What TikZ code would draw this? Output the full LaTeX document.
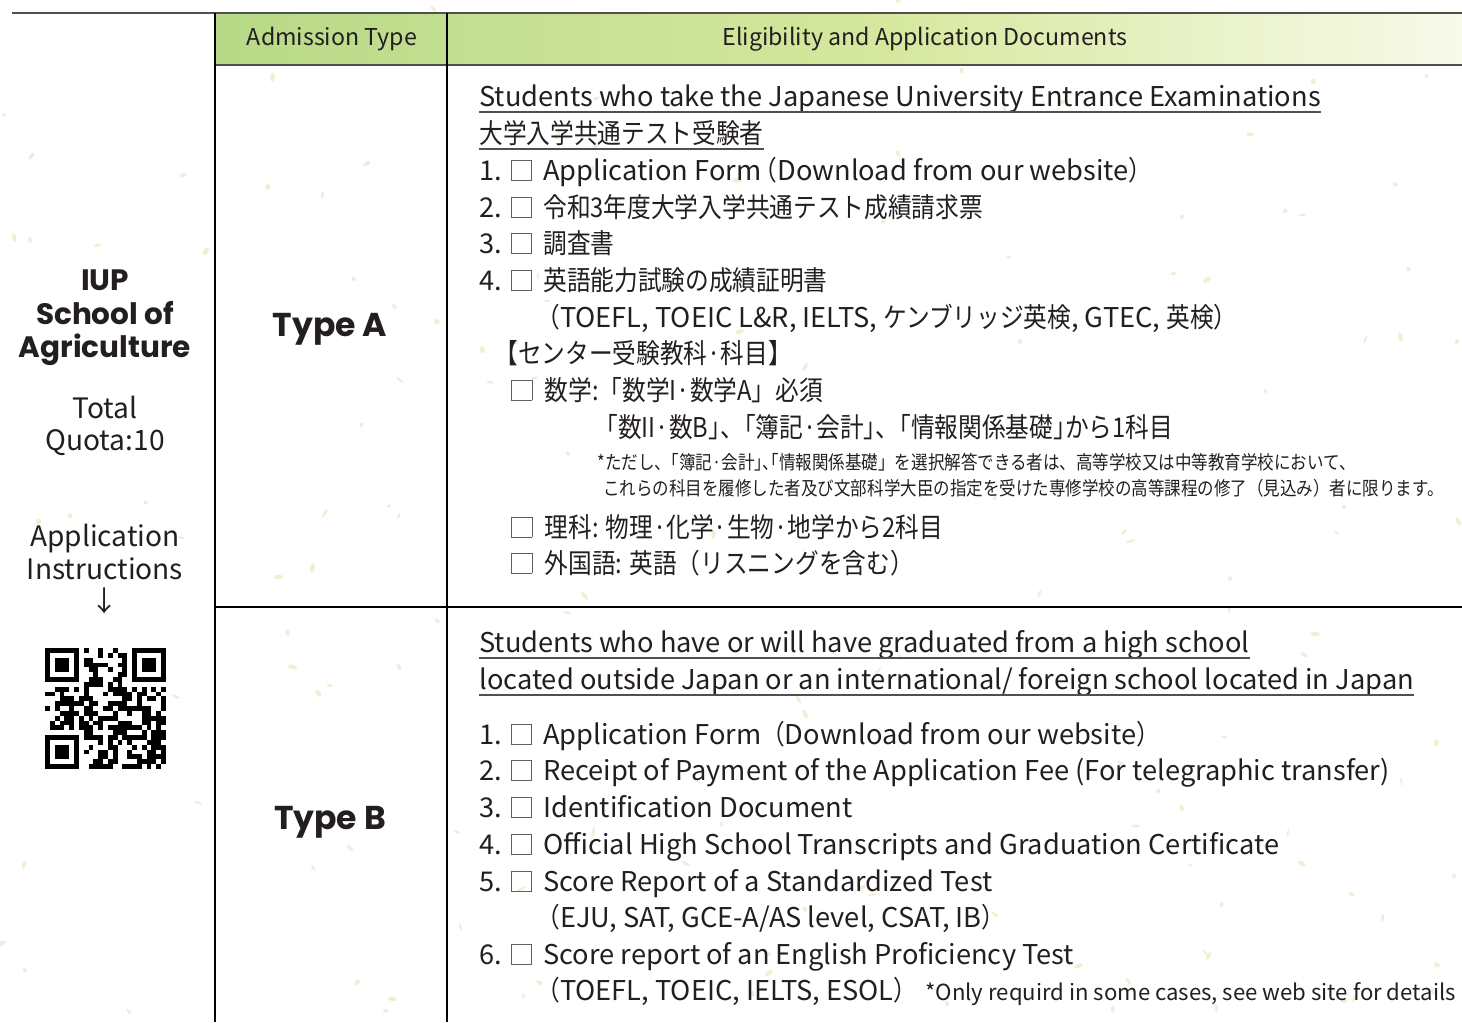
\documentclass[tikz,border=0pt]{standalone}
\usepackage{fontspec}
\setmainfont{Noto Sans CJK JP}
\newfontfamily\jpfont{Noto Sans CJK JP}[FakeStretch=0.87]
\newfontfamily\jphfont{Noto Sans CJK JP}[FakeStretch=0.87,RawFeature=+halt]
\newfontfamily\headfont{Poppins}
\usetikzlibrary{positioning,calc}

\definecolor{hdrA}{RGB}{184,217,136}
\definecolor{hdrB}{RGB}{214,232,158}
\definecolor{hdrC}{RGB}{248,250,234}
\definecolor{rulegray}{RGB}{80,80,80}
\definecolor{boxgray}{RGB}{95,95,95}
\definecolor{inkdark}{RGB}{35,30,32}
\definecolor{fleck}{RGB}{240,228,192}

\pgfdeclarehorizontalshading{hdrshade}{100bp}{color(0bp)=(hdrA); color(25bp)=(hdrA); color(52bp)=(hdrB); color(75bp)=(hdrC); color(100bp)=(hdrC)}

% check box of the lists
\newcommand{\tick}{\textcolor{boxgray}{\fboxsep=0pt\fboxrule=0.5pt\fbox{\rule{0pt}{11pt}\hspace{11pt}}}}
\newcommand{\chk}{\hspace{5pt}\tick\hspace{6.5pt}}
\newcommand{\jp}[1]{{\jpfont #1}}
\newcommand{\jph}[1]{{\jphfont #1}}

\tikzset{
  txt/.style={anchor=base west, inner sep=0pt, text=inkdark, font=\fontsize{15.5}{18}\selectfont},
  jtxt/.style={txt, font=\jpfont\fontsize{15.5}{18}\selectfont},
  small/.style={txt, font=\jpfont\fontsize{10.8}{12}\selectfont},
  note/.style={txt, font=\fontsize{12.6}{14}\selectfont},
  hdr/.style={inner sep=0pt, text=inkdark, font=\fontsize{13.2}{15}\selectfont},
  big/.style={inner sep=0pt, text=inkdark, align=center, font=\headfont\bfseries\fontsize{16.8}{19}\selectfont},
  side/.style={inner sep=0pt, text=inkdark, align=center, font=\fontsize{16}{18.6}\selectfont},
  uline/.style={draw=rulegray, line width=0.6pt},
  hrule/.style={draw=rulegray, line width=1.3pt},
  vrule/.style={draw=black, line width=0.6pt},
}

\begin{document}
\begin{tikzpicture}[x=0.02cm, y=-0.02cm]
  \useasboundingbox (0,0) rectangle (1462,1022);

  % paper flecks
  \pgfmathsetseed{731}
  \foreach \k in {1,...,160} {
    \pgfmathsetmacro\fx{rnd*1462}
    \pgfmathsetmacro\fy{rnd*1022}
    \fill[fleck, opacity=0.7, rotate around={rnd*180:(\fx,\fy)}] (\fx,\fy) ellipse (2+rnd*3 and 1+rnd*1.5);
  }

  % table frame
  \shade[shading=hdrshade] (215,13) rectangle (1462,65);
  \draw[hrule] (12,13) -- (1462,13);
  \draw[hrule] (215,65) -- (1462,65);
  \draw[vrule] (215,13) -- (215,1022);
  \draw[vrule] (447,13) -- (447,1022);
  \draw[vrule] (215,607) -- (1462,607);

  \node[hdr] (hType) at (332,39) {Admission Type};
  \node[hdr] (hDocs) at (925,39) {Eligibility and Application Documents};

  % left column
  \node[big] (school) at (105,318) {IUP\\School of\\Agriculture};
  \node[side] (quota) at (105,426) {Total\\Quota:10};
  \node[side] (instr) at (105,569) {Application\\Instructions\\↓};
  \coordinate (qr) at (45,648);
  \fill[black] (qr) rectangle ++(33.9,33.9);
  \fill[white] ($(qr)+(4.84,4.84)$) rectangle ++(24.2,24.2);
  \fill[black] ($(qr)+(9.68,9.68)$) rectangle ++(14.5,14.5);
  \fill[black] ($(qr)+(87.1,0)$) rectangle ++(33.9,33.9);
  \fill[white] ($(qr)+(91.9,4.84)$) rectangle ++(24.2,24.2);
  \fill[black] ($(qr)+(96.8,9.68)$) rectangle ++(14.5,14.5);
  \fill[black] ($(qr)+(0,87.1)$) rectangle ++(33.9,33.9);
  \fill[white] ($(qr)+(4.84,91.9)$) rectangle ++(24.2,24.2);
  \fill[black] ($(qr)+(9.68,96.8)$) rectangle ++(14.5,14.5);
  \pgfmathsetseed{2417}
  \foreach \i in {0,...,24}
    \foreach \j in {0,...,24} {
      \pgfmathtruncatemacro\qbit{(rnd<0.55) && !(\i<8 && \j<8) && !(\i>16 && \j<8) && !(\i<8 && \j>16)}
      \ifnum\qbit=1
        \fill[black] ($(qr)+(\i*4.84,\j*4.84)$) rectangle ++(4.84,4.84);
      \fi
    }

  % type labels
  \node[big, anchor=base, font=\headfont\bfseries\fontsize{18.8}{20}\selectfont] (typeA) at (330,336) {Type A};
  \node[big, anchor=base, font=\headfont\bfseries\fontsize{18.8}{20}\selectfont] (typeB) at (330,829) {Type B};

  % Type A documents
  \node[txt] (sA1) at (479,106) {Students who take the Japanese University Entrance Examinations};
  \node[jtxt] (sA2) at (479,143) {大学入学共通テスト受験者};
  \draw[uline] ([yshift=-0.12cm]sA1.base west) -- ([yshift=-0.12cm]sA1.base east);
  \draw[uline] ([yshift=-0.12cm]sA2.base west) -- ([yshift=-0.12cm]sA2.base east);
  \node[txt] (a1) at (479,180) {1.\chk Application Form\hspace{2.5pt}\jph{（}Download from our website\jph{）}};
  \node[txt] (a2) at (479,217) {2.\chk \jp{令和3年度大学入学共通テスト成績請求票}};
  \node[txt] (a3) at (479,253) {3.\chk \jp{調査書}};
  \node[txt] (a4) at (479,290) {4.\chk \jp{英語能力試験の成績証明書}};
  \node[txt] (a4x) at (536,327) {\jp{（}TOEFL, TOEIC L\&R, IELTS, \jp{ケンブリッジ英検}, GTEC, \jp{英検）}};
  \node[jtxt] (ctr) at (494,363) {【センター受験教科·科目】};
  \node[jtxt] (m1) at (511,400) {\tick\hspace{7pt}数学:「数学I·数学A」必須};
  \node[jtxt] (m2) at (606,437) {\jph{「}数II·数B\jph{」}、\jph{「}簿記·会計\jph{」}、\jph{「}情報関係基礎\jph{」}から1科目};
  \node[small] (n1) at (597,469) {*ただし、\jph{「}簿記·会計\jph{」、「}情報関係基礎」を選択解答できる者は、高等学校又は中等教育学校において、};
  \node[small] (n2) at (603,495) {これらの科目を履修した者及び文部科学大臣の指定を受けた専修学校の高等課程の修了（見込み）者に限ります。};
  \node[jtxt] (m3) at (511,537) {\tick\hspace{7pt}理科: 物理·化学·生物·地学から2科目};
  \node[jtxt] (m4) at (511,573) {\tick\hspace{7pt}外国語: 英語（リスニングを含む）};

  % Type B documents
  \node[txt] (sB1) at (479,652) {Students who have or will have graduated from a high school};
  \node[txt] (sB2) at (479,689) {located outside Japan or an international/ foreign school located in Japan};
  \draw[uline] ([yshift=-0.12cm]sB1.base west) -- ([yshift=-0.12cm]sB1.base east);
  \draw[uline] ([yshift=-0.12cm]sB2.base west) -- ([yshift=-0.12cm]sB2.base east);
  \node[txt] (b1) at (479,744) {1.\chk Application Form\jp{（}Download from our website\jph{）}};
  \node[txt] (b2) at (479,780) {2.\chk Receipt of Payment of the Application Fee (For telegraphic transfer)};
  \node[txt] (b3) at (479,817) {3.\chk Identification Document};
  \node[txt] (b4) at (479,854) {4.\chk Official High School Transcripts and Graduation Certificate};
  \node[txt] (b5) at (479,891) {5.\chk Score Report of a Standardized Test};
  \node[txt] (b5x) at (536,927) {\jp{（}EJU, SAT, GCE-A/AS level, CSAT, IB\jp{）}};
  \node[txt] (b6) at (479,964) {6.\chk Score report of an English Proficiency Test};
  \node[txt] (b6x) at (536,1000) {\jp{（}TOEFL, TOEIC, IELTS, ESOL\jp{）}};
  \node[note] (only) at (925,1000) {*Only requird in some cases, see web site for details};
\end{tikzpicture}
\end{document}
